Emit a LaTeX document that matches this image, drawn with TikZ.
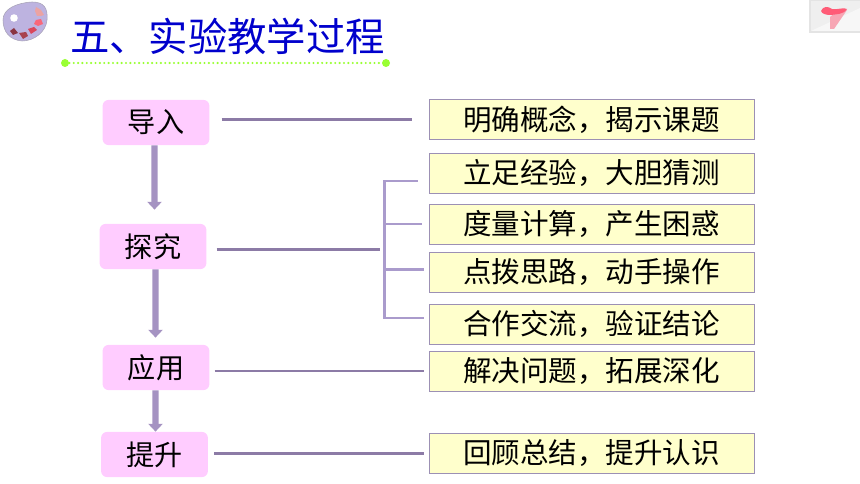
\documentclass[tikz,border=0pt]{standalone}
\usepackage{fontspec}
\setmainfont{Noto Sans CJK SC}
\usetikzlibrary{arrows.meta}
\definecolor{titleblue}{HTML}{0000CC}
\definecolor{stepfill}{HTML}{FFCCFF}
\definecolor{notefill}{HTML}{FFFFCC}
\definecolor{noteline}{HTML}{9C90B4}
\definecolor{darkline}{HTML}{8C7BA6}
\definecolor{paleline}{HTML}{AA9BCC}
\definecolor{shaftfill}{HTML}{A593C2}
\definecolor{dotgreen}{HTML}{99FF33}
\definecolor{palettefill}{HTML}{BDB3E0}
\definecolor{paletteline}{HTML}{A9A4B8}
\definecolor{dabone}{HTML}{EBA3A3}
\definecolor{dabtwo}{HTML}{F9677A}
\definecolor{dabthree}{HTML}{D9475C}
\definecolor{dabfour}{HTML}{A8414F}
\definecolor{dabfive}{HTML}{8A3542}
\definecolor{iconedge}{HTML}{E4E4E4}
\definecolor{iconback}{HTML}{EFEFEF}
\definecolor{funnelred}{HTML}{FF5C77}
\definecolor{funnelpale}{HTML}{F7A6B4}
\tikzset{
  stepbox/.style = {fill = stepfill, rounded corners = 0.15cm, minimum width = 2.67cm, minimum height = 1.13cm, inner sep = 0pt, font = \fontsize{20}{20}\selectfont},
  notebox/.style = {draw = noteline, line width = 0.6pt, fill = notefill, minimum width = 8.125cm, minimum height = 1cm, inner sep = 0pt, font = \fontsize{20.3}{20.3}\selectfont},
  joinline/.style = {draw = darkline, line width = 1.5pt},
  forkline/.style = {draw = paleline, line width = 1.5pt},
  flowline/.style = {draw = shaftfill, line width = 4.6pt, -{Triangle[width = 10pt, length = 5.5pt]}}
}
\begin{document}
\begin{tikzpicture}[x = 0.025cm, y = -0.025cm]
  \useasboundingbox (0,0) rectangle (860,484);
  % palette
  \draw[fill = palettefill, draw = paletteline, line width = 0.4pt] (3,20) .. controls (3,9) and (16,3) .. (32,2) .. controls (44,2) and (48,8) .. (47,20) .. controls (46,32) and (34,41) .. (22,41) .. controls (10,40) and (3,32) .. (3,20) -- cycle;
  \fill[white] (14,18) circle (3.8);
  \fill[dabone] (36,7) -- (41,10) -- (44,15) -- (41,16) -- (37,16) -- (35,11) -- cycle;
  \fill[dabtwo] (36,20) -- (41,19) -- (43,24) -- (38,26) -- (34,24) -- cycle;
  \fill[dabthree] (28,29) -- (34,27) -- (37,30) -- (31,34) -- cycle;
  \fill[dabfour] (19,33) -- (26,32) -- (28,36) -- (23,39) -- cycle;
  \fill[dabfive] (10,31) -- (14,28) -- (18,33) -- (13,35) -- cycle;
  % funnel icon
  \fill[iconedge] (809,0) rectangle (860,33);
  \fill[iconback] (811,1) rectangle (860,31);
  \fill[white, opacity = 0.5] (811,31) -- (860,8) -- (860,31) -- cycle;
  \fill[funnelpale] (836,12) -- (847,10) -- (834,29) -- (830,29) -- (830,17) -- cycle;
  \fill[funnelred] (821,11) .. controls (823,6) and (828,6) .. (832,9) .. controls (838,10) and (843,7) .. (847,9) .. controls (843,15) and (836,14) .. (831,15) .. controls (826,15) and (822,14) .. (821,11) -- cycle;
  % title
  \node[text = titleblue, font = \fontsize{28}{28}\selectfont, inner sep = 0pt] (title) at (227.5,36) {五、实验教学过程};
  \coordinate (ruleL) at (65,63);
  \coordinate (ruleR) at (386,63);
  \draw[dotgreen, line width = 1.7pt, line cap = round, dash pattern = on 0pt off 3.1pt] (ruleL) -- (ruleR);
  \fill[dotgreen] (ruleL) circle (4) (ruleR) circle (4);
  % left column
  \node[stepbox] (daoru) at (156,122.5) {导入};
  \node[stepbox] (tanjiu) at (153,246.5) {探究};
  \node[stepbox] (yingyong) at (156,367.5) {应用};
  \node[stepbox] (tisheng) at (154.5,454.5) {提升};
  % right column
  \node[notebox] (mingque) at (591.5,119.5) {明确概念，揭示课题};
  \node[notebox] (lizu) at (591.5,173) {立足经验，大胆猜测};
  \node[notebox] (duliang) at (591.5,224) {度量计算，产生困惑};
  \node[notebox] (dianbo) at (591.5,272.5) {点拨思路，动手操作};
  \node[notebox] (hezuo) at (591.5,324) {合作交流，验证结论};
  \node[notebox] (jiejue) at (591.5,371) {解决问题，拓展深化};
  \node[notebox] (huigu) at (591.5,453.5) {回顾总结，提升认识};
  % arrows
  \draw[flowline, shorten >= 0.35cm] ([xshift = -0.0375cm]daoru.south) -- ([xshift = 0.0375cm]tanjiu.north);
  \draw[flowline, shorten >= 0.175cm] ([xshift = 0.0625cm]tanjiu.south) -- ([xshift = -0.0125cm]yingyong.north);
  \draw[flowline] ([xshift = -0.0125cm]yingyong.south) -- ([xshift = 0.025cm]tisheng.north);
  % links
  \coordinate (forkin) at (380,249.5);
  \coordinate (forktop) at (384.5,181);
  \coordinate (forkb) at (384.5,224);
  \coordinate (forkc) at (384.5,269.5);
  \coordinate (forkbot) at (384.5,318);
  \draw[joinline, shorten <= 0.3cm, shorten >= 0.425cm] (daoru.east |- mingque) -- (mingque.west);
  \draw[joinline, shorten <= 0.25cm] (tanjiu.east |- forkin) -- (forkin);
  \draw[joinline, shorten <= 0.125cm, shorten >= 0.125cm] (yingyong.east |- jiejue) -- (jiejue.west);
  \draw[joinline, shorten <= 0.15cm, shorten >= 0.125cm] (tisheng.east |- huigu) -- (huigu.west);
  \draw[forkline, shorten <= 0.275cm, shorten >= 0.125cm] (forktop -| lizu.west) -- (forktop) -- (forkbot) -- (forkbot -| hezuo.west);
  \draw[forkline, shorten >= 0.175cm] (forkb) -- (forkb -| duliang.west);
  \draw[forkline, shorten >= 0.125cm] (forkc) -- (forkc -| dianbo.west);
\end{tikzpicture}
\end{document}
